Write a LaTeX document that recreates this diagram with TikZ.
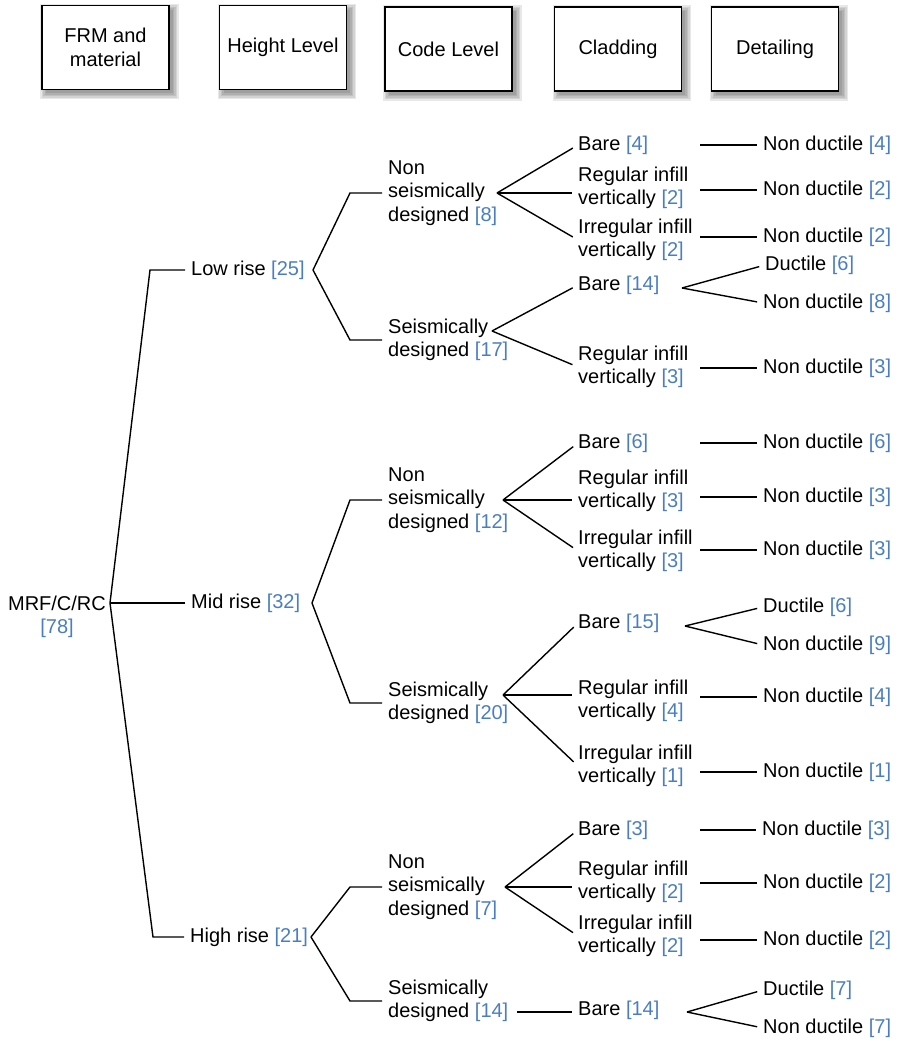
\documentclass[tikz,border=0pt]{standalone}
\usepackage{fontspec}
\setmainfont{Liberation Sans}
\usetikzlibrary{calc}
\definecolor{numblue}{RGB}{74,126,193}
\newcommand\nb[1]{\textcolor{numblue}{[#1]}}
\newcommand\fsz{\fontsize{20}{23.5}\selectfont}
\pgfdeclarelayer{bg}
\pgfsetlayers{bg,main}
\begin{document}
\begin{tikzpicture}[x=1pt,y=-1pt,line width=1.4pt,
  lbl/.style={anchor=west,align=left,inner sep=0pt,font=\fsz},
  hdr/.style={draw,line width=1.5pt,fill=white,minimum width=127pt,minimum height=84pt,align=center,font=\fsz},
  br/.style={line width=1.4pt,shorten >=6pt},
  hl/.style={line width=1.4pt,shorten >=6pt},
  shd/.style={fill=black,opacity=0.09}]
\useasboundingbox (0,0) rectangle (898,1043);
% header boxes
\node[hdr] (h1) at (105.5,47.5) {FRM and\\material};
\node[hdr] (h2) at (283,47.5) {Height Level};
\node[hdr] (h3) at (448.5,49) {Code Level};
\node[hdr] (h4) at (618,49) {Cladding};
\node[hdr] (h5) at (775,49) {Detailing};
\begin{pgfonlayer}{bg}
\foreach \h in {h1,h2,h3,h4,h5}
  \foreach \e in {-1,0.5,2,3.5,5}
    \fill[shd] ($(\h.south west)+(4-\e,4+\e)$) rectangle ($(\h.north east)+(4+\e,4-\e)$);
\end{pgfonlayer}
% root
\node[font=\fsz,align=center,inner sep=0pt] (root) at (57,617) {MRF/C/RC\\\nb{78}};
% height level
\node[lbl] (lowrise) at (191,270) {Low rise \nb{25}};
\node[lbl] (midrise) at (191,603) {Mid rise \nb{32}};
\node[lbl] (highrise) at (190,937) {High rise \nb{21}};
% code level
\node[lbl] (ns1) at (388,193) {Non\\seismically\\designed \nb{8}};
\node[lbl] (s1) at (388,340) {Seismically\\designed \nb{17}};
\node[lbl] (ns2) at (388,500) {Non\\seismically\\designed \nb{12}};
\node[lbl] (s2) at (388,703) {Seismically\\designed \nb{20}};
\node[lbl] (ns3) at (388,887) {Non\\seismically\\designed \nb{7}};
\node[lbl] (s3) at (388,1001) {Seismically\\designed \nb{14}};
% cladding
\node[lbl] (c1a) at (578,145) {Bare \nb{4}};
\node[lbl] (c1b) at (578,188) {Regular infill\\vertically \nb{2}};
\node[lbl] (c1c) at (578,240) {Irregular infill\\vertically \nb{2}};
\node[lbl] (c2a) at (578,285) {Bare \nb{14}};
\node[lbl] (c2b) at (578,367) {Regular infill\\vertically \nb{3}};
\node[lbl] (c3a) at (578,443) {Bare \nb{6}};
\node[lbl] (c3b) at (578,491) {Regular infill\\vertically \nb{3}};
\node[lbl] (c3c) at (578,551) {Irregular infill\\vertically \nb{3}};
\node[lbl] (c4a) at (578,623) {Bare \nb{15}};
\node[lbl] (c4b) at (578,701) {Regular infill\\vertically \nb{4}};
\node[lbl] (c4c) at (578,766) {Irregular infill\\vertically \nb{1}};
\node[lbl] (c5a) at (578,830) {Bare \nb{3}};
\node[lbl] (c5b) at (578,882) {Regular infill\\vertically \nb{2}};
\node[lbl] (c5c) at (578,936) {Irregular infill\\vertically \nb{2}};
\node[lbl] (c6a) at (578,1010) {Bare \nb{14}};
% detailing
\node[lbl] (d1a) at (763,145) {Non ductile \nb{4}};
\node[lbl] (d1b) at (763,190) {Non ductile \nb{2}};
\node[lbl] (d1c) at (763,237) {Non ductile \nb{2}};
\node[lbl] (d2a) at (765,265) {Ductile \nb{6}};
\node[lbl] (d2b) at (763,303) {Non ductile \nb{8}};
\node[lbl] (d2c) at (763,368) {Non ductile \nb{3}};
\node[lbl] (d3a) at (763,443) {Non ductile \nb{6}};
\node[lbl] (d3b) at (763,497) {Non ductile \nb{3}};
\node[lbl] (d3c) at (763,550) {Non ductile \nb{3}};
\node[lbl] (d4a) at (763,607) {Ductile \nb{6}};
\node[lbl] (d4b) at (763,645) {Non ductile \nb{9}};
\node[lbl] (d4c) at (763,697) {Non ductile \nb{4}};
\node[lbl] (d4d) at (763,772) {Non ductile \nb{1}};
\node[lbl] (d5a) at (762,830) {Non ductile \nb{3}};
\node[lbl] (d5b) at (763,883) {Non ductile \nb{2}};
\node[lbl] (d5c) at (763,940) {Non ductile \nb{2}};
\node[lbl] (d6a) at (763,990) {Ductile \nb{7}};
\node[lbl] (d6b) at (763,1028) {Non ductile \nb{7}};
% junctions
\coordinate (j0) at (110,603);
\coordinate (j1) at (313,270);
\coordinate (j2) at (312,603);
\coordinate (j3) at (311,937);
\coordinate (k1) at (497,193);
\coordinate (k2) at (492,331);
\coordinate (k3) at (503,500);
\coordinate (k4) at (503,695);
\coordinate (k5) at (505,887);
\coordinate (k6) at (517,1012);
\coordinate (m2) at (682,288);
\coordinate (m4) at (685,626);
\coordinate (m6) at (687,1012);
% root branches
\draw[br] (j0) -- (150,0 |- lowrise.west) -- (lowrise.west);
\draw[br] (j0) -- (midrise.west);
\draw[br] (j0) -- (153,0 |- highrise.west) -- (highrise.west);
% height branches
\draw[br] (j1) -- (350,0 |- ns1.west) -- (ns1.west);
\draw[br] (j1) -- (350,0 |- s1.west) -- (s1.west);
\draw[br] (j2) -- (350,0 |- ns2.west) -- (ns2.west);
\draw[br] (j2) -- (350,0 |- s2.west) -- (s2.west);
\draw[br] (j3) -- (350,0 |- ns3.west) -- (ns3.west);
\draw[br] (j3) -- (350,0 |- s3.west) -- (s3.west);
% code branches
\draw[br] (k1) -- (c1a.west);
\draw[br] (k1) -- (c1b.west |- k1);
\draw[br] (k1) -- (c1c.west);
\draw[br] (k2) -- (c2a.west);
\draw[br] (k2) -- (c2b.west);
\draw[br] (k3) -- (c3a.west);
\draw[br] (k3) -- (c3b.west |- k3);
\draw[br] (k3) -- (c3c.west);
\draw[br] (k4) -- (c4a.west);
\draw[br] (k4) -- (c4b.west |- k4);
\draw[br] (k4) -- (c4c.west);
\draw[br] (k5) -- (c5a.west);
\draw[br] (k5) -- (c5b.west |- k5);
\draw[br] (k5) -- (c5c.west);
\draw[br] (k6) -- (c6a.west |- k6);
% cladding branches
\draw[br] (m2) -- (d2a.west);
\draw[br] (m2) -- (d2b.west);
\draw[br] (m4) -- (d4a.west);
\draw[br] (m4) -- (d4b.west);
\draw[br] (m6) -- (d6a.west);
\draw[br] (m6) -- (d6b.west);
% detailing lines
\foreach \d in {d1a,d1b,d1c,d2c,d3a,d3b,d3c,d4c,d4d,d5a,d5b,d5c}
  \draw[hl] (700,0 |- \d.west) -- (\d.west);
\end{tikzpicture}
\end{document}
